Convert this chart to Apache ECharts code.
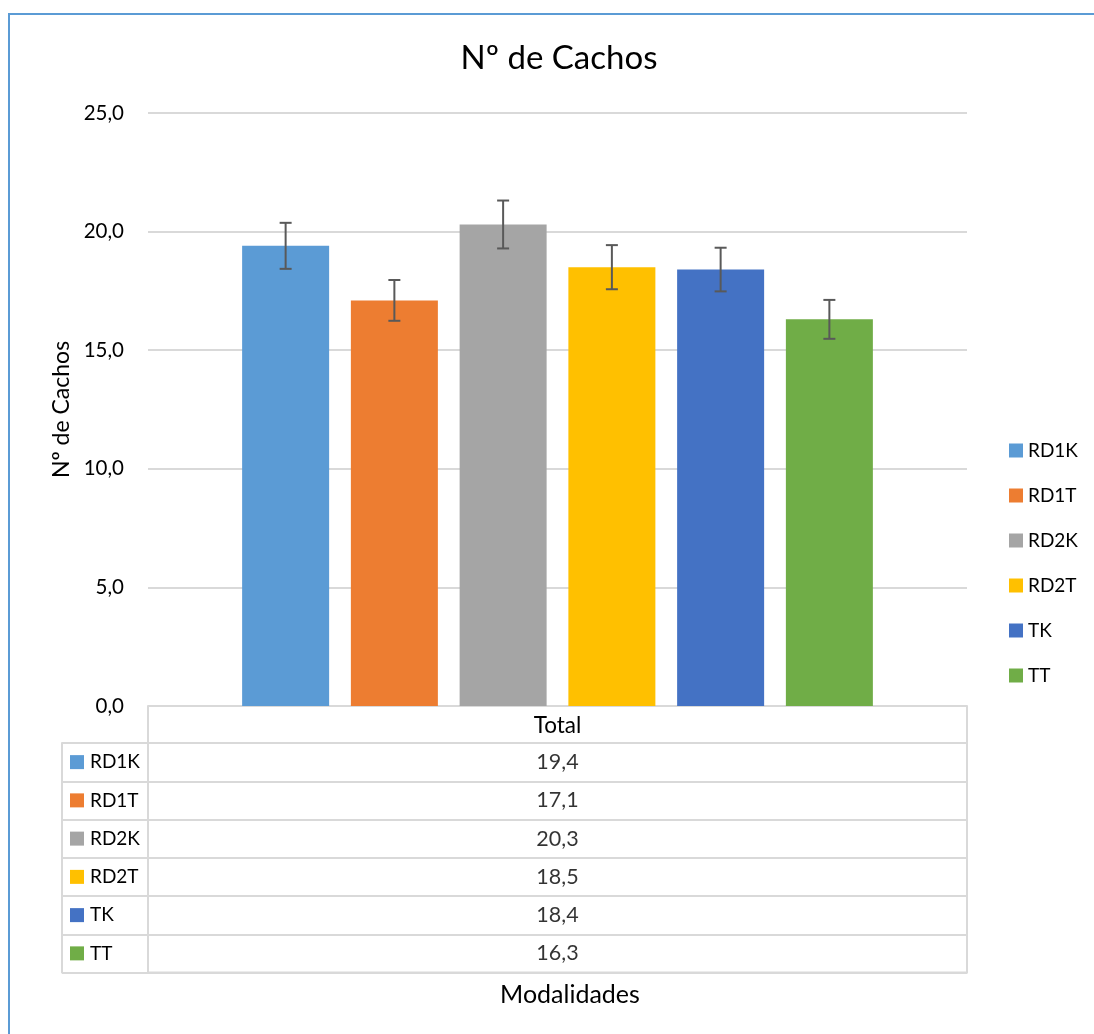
<!DOCTYPE html>
<html><head><meta charset="utf-8">
<script src="https://cdn.jsdelivr.net/npm/echarts@6/dist/echarts.min.js"></script>
<style>html,body{margin:0;padding:0;background:#fff}#c{width:1094px;height:1034px}</style>
</head><body><div id="c"></div>
<script>
const categories = ['Total'];
const seriesNames = ['RD1K', 'RD1T', 'RD2K', 'RD2T', 'TK', 'TT'];
const values = [19.4, 17.1, 20.3, 18.5, 18.4, 16.3];
const errors = [0.97, 0.86, 1.01, 0.93, 0.92, 0.82];
const colors = ['#5B9BD5', '#ED7D31', '#A5A5A5', '#FFC000', '#4472C4', '#70AD47'];
const yTicks = [0, 5, 10, 15, 20, 25];

const FONT = 'Lato, "Open Sans", sans-serif';
const LINE = '#d9d9d9';
const BAR_W = 87, BAR_GAP = 0.25;
const fmt = v => v.toFixed(1).replace('.', ',');

const chart = echarts.init(document.getElementById('c'));

const rich = { t: { fontSize: 19, color: '#000', fontFamily: FONT, padding: [0, 0, 0, 6] } };
colors.forEach((c, i) => { rich['s' + i] = { width: 14, height: 14, backgroundColor: c }; });

const barSeries = seriesNames.map((n, i) => ({
  type: 'bar', name: n, xAxisIndex: 0, yAxisIndex: 0,
  data: [values[i]], barWidth: BAR_W, barGap: (BAR_GAP * 100) + '%',
  itemStyle: { color: colors[i] }, z: 2
}));

const errSeries = {
  type: 'custom', xAxisIndex: 0, yAxisIndex: 0, z: 5,
  encode: { x: 0, y: [1, 2] },
  data: values.map((v, i) => [0, v - errors[i], v + errors[i], i]),
  renderItem(params, api) {
    const i = api.value(3);
    const lo = api.coord([api.value(0), api.value(1)]);
    const hi = api.coord([api.value(0), api.value(2)]);
    const n = seriesNames.length;
    const gap = BAR_W * BAR_GAP;
    const groupW = n * BAR_W + (n - 1) * gap;
    const x = lo[0] - groupW / 2 + i * (BAR_W + gap) + BAR_W / 2;
    const st = { stroke: '#595959', lineWidth: 2 };
    const cw = 6;
    return { type: 'group', children: [
      { type: 'line', shape: { x1: x, y1: lo[1], x2: x, y2: hi[1] }, style: st },
      { type: 'line', shape: { x1: x - cw, y1: lo[1], x2: x + cw, y2: lo[1] }, style: st },
      { type: 'line', shape: { x1: x - cw, y1: hi[1], x2: x + cw, y2: hi[1] }, style: st }
    ]};
  }
};

const tableSeries = {
  type: 'scatter', xAxisIndex: 1, yAxisIndex: 1, symbolSize: 0, silent: true,
  data: values.map((v, i) => [0.5, seriesNames[i]]),
  label: { show: true, position: 'inside', fontSize: 21.5, color: '#000', fontFamily: FONT,
    formatter: p => fmt(values[p.dataIndex]) }
};

chart.setOption({
  backgroundColor: '#fff',
  animation: false,
  textStyle: { fontFamily: FONT },
  title: [
    { text: 'Nº de Cachos', left: 559, top: 42, padding: 0, textAlign: 'center',
      textStyle: { fontSize: 33, fontWeight: 'normal', color: '#000', fontFamily: FONT } },
    { text: 'Modalidades', left: 570, top: 982, padding: 0, textAlign: 'center',
      textStyle: { fontSize: 25, fontWeight: 'normal', color: '#000', fontFamily: FONT } }
  ],
  legend: {
    data: seriesNames, orient: 'vertical', left: 1009, top: 441, padding: 0,
    itemWidth: 14, itemHeight: 14, itemGap: 26, icon: 'rect',
    textStyle: { fontSize: 19, color: '#000', fontFamily: FONT }
  },
  grid: [
    { left: 148, right: 127, top: 113, bottom: 328 },
    { left: 148, right: 127, top: 743, bottom: 61.5, show: true, borderColor: LINE, borderWidth: 2, backgroundColor: 'transparent' }
  ],
  xAxis: [
    { type: 'category', gridIndex: 0, data: categories,
      axisLine: { show: true, lineStyle: { color: LINE, width: 2 } },
      axisTick: { show: true, length: 37, lineStyle: { color: LINE, width: 2 } },
      axisLabel: { fontSize: 22.5, color: '#000', margin: 8, fontFamily: FONT } },
    { type: 'value', gridIndex: 1, min: 0, max: 1, show: false }
  ],
  yAxis: [
    { type: 'value', gridIndex: 0, min: yTicks[0], max: yTicks[yTicks.length - 1], interval: yTicks[1] - yTicks[0],
      axisLine: { show: false }, axisTick: { show: false },
      splitLine: { lineStyle: { color: LINE, width: 2 } },
      axisLabel: { formatter: v => fmt(v), fontSize: 20.5, color: '#000', margin: 24, fontFamily: FONT },
      name: 'Nº de Cachos', nameLocation: 'middle', nameRotate: 90, nameGap: 70,
      nameTextStyle: { fontSize: 23, color: '#000', fontFamily: FONT } },
    { type: 'category', gridIndex: 1, data: seriesNames, inverse: true,
      axisLine: { show: true, lineStyle: { color: LINE, width: 2 } },
      axisTick: { show: true, length: 86, lineStyle: { color: LINE, width: 2 } },
      splitLine: { show: true, lineStyle: { color: LINE, width: 2 } },
      axisLabel: { align: 'left', margin: 78, rich,
        formatter: (val, idx) => `{s${idx}|}{t|${val}}` } },
    { type: 'category', gridIndex: 1, data: seriesNames, inverse: true, offset: 86, position: 'left',
      axisLine: { show: true, lineStyle: { color: LINE, width: 2 } },
      axisTick: { show: false }, axisLabel: { show: false }, splitLine: { show: false } }
  ],
  graphic: [
    { type: 'rect', silent: true, z: 100, shape: { x: 9, y: 14, width: 1200, height: 1200 },
      style: { fill: 'none', stroke: '#5B9BD5', lineWidth: 2 } }
  ],
  series: [...barSeries, errSeries, tableSeries]
});
</script></body></html>
